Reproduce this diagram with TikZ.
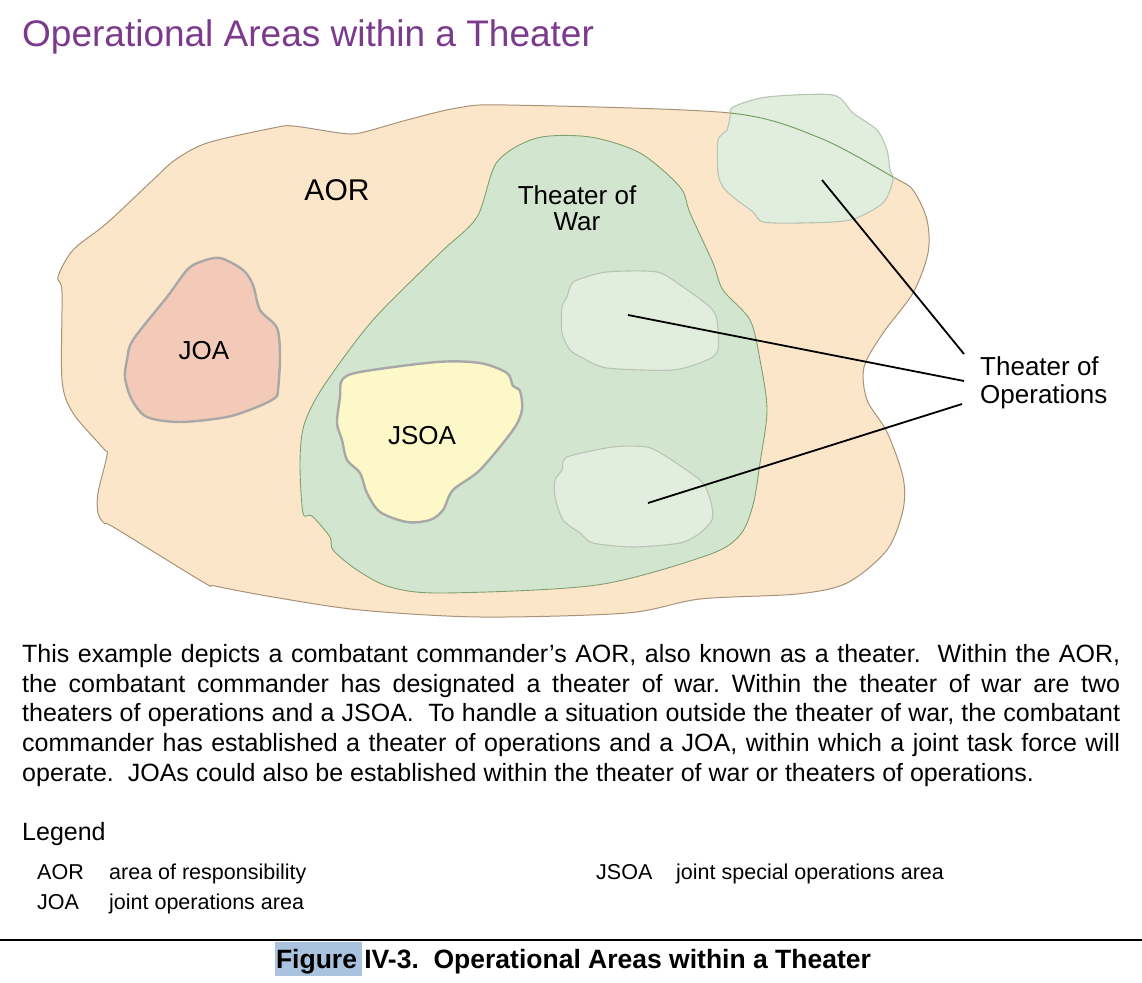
\documentclass[tikz,border=0pt]{standalone}
\usepackage{fontspec}
\setmainfont{Liberation Sans}
\frenchspacing
\definecolor{titlepurple}{RGB}{124,58,141}
\definecolor{aorfill}{RGB}{252,230,201}
\definecolor{aorline}{RGB}{168,147,122}
\definecolor{towfill}{RGB}{210,229,207}
\definecolor{towline}{RGB}{128,160,112}
\definecolor{joafill}{RGB}{243,202,184}
\definecolor{jsoafill}{RGB}{253,248,200}
\definecolor{areaedge}{RGB}{168,168,168}
\definecolor{toofill}{RGB}{225,238,221}
\definecolor{tooline}{RGB}{184,196,180}
\definecolor{throughline}{RGB}{118,160,98}
\definecolor{hilite}{RGB}{169,195,222}
\tikzset{
  aorstyle/.style={fill=aorfill, draw=aorline, line width=1pt},
  towstyle/.style={fill=towfill, draw=towline, line width=0.9pt},
  joastyle/.style={fill=joafill, draw=areaedge, line width=2.4pt},
  jsoastyle/.style={fill=jsoafill, draw=areaedge, line width=2.4pt},
  toostyle/.style={fill=toofill, draw=tooline, line width=1.1pt},
  leader/.style={draw=black, line width=1.8pt},
  maplabel/.style={inner sep=0pt, font=\fontsize{26}{26}\selectfont, text=black},
  paraline/.style={anchor=base west, inner sep=0pt, font=\fontsize{25}{30}\selectfont},
  legitem/.style={anchor=base west, inner sep=0pt, font=\fontsize{21.5}{26}\selectfont},
}
\begin{document}
\begin{tikzpicture}[x=1pt, y=-1pt]
\path[use as bounding box, fill=white] (0,0) rectangle (1142,982);

% Title
\node[anchor=base west, inner sep=0pt, text=titlepurple, font=\fontsize{37}{40}\selectfont] (title) at (22,47) {Operational Areas within a Theater};

% AOR
\draw[aorstyle] plot[smooth cycle, tension=0.5] coordinates {
 (58,277) (62,292) (62,380) (73,413) (103,448) (107,455) (98,493) (98,513) (104,523) (115,528)
 (203,582) (215,586) (273,597) (360,610) (480,617) (627,613) (700,599) (797,594) (847,583)
 (887,550) (903,510) (903,477) (887,432) (867,400) (864,367) (883,333) (913,293) (928,253)
 (927,220) (913,190) (893,177) (820,138) (730,113) (507,105) (457,108) (407,120) (360,133)
 (340,133) (293,126) (273,128) (207,143) (175,160) (155,178) (107,223) (73,250)};

% Theater of War
\draw[towstyle] plot[smooth cycle, tension=0.5] coordinates {
 (537,138) (590,137) (640,153) (680,187) (690,213) (713,263) (723,290) (750,320) (760,360)
 (767,410) (760,463) (753,505) (740,535) (708,555) (597,585) (443,593) (390,587) (357,570)
 (333,550) (330,537) (312,516) (303,513) (300,463) (304,425) (323,387) (373,320) (440,253)
 (477,217) (497,162)};

% JOA
\draw[joastyle] plot[smooth cycle, tension=0.5] coordinates {
 (187,270) (200,262) (220,258) (243,270) (253,285) (260,310) (277,328) (280,357) (278,390)
 (275,398) (257,407) (227,417) (180,422) (147,417) (132,400) (125,378) (127,360)
 (133,340) (167,297)};

% JSOA
\draw[jsoastyle] plot[smooth cycle, tension=0.5] coordinates {
 (342,380) (360,372) (437,362) (480,363) (507,373) (513,386) (520,391) (522,410) (513,430)
 (480,470) (453,490) (443,510) (430,520) (407,522) (380,512) (367,493) (360,473) (347,460)
 (342,440) (337,423) (340,397)};

% Theaters of operations
\draw[toostyle] plot[smooth cycle, tension=0.45] coordinates {
 (733,107) (767,97) (833,95) (853,113) (877,130) (887,150) (890,170) (893,180) (883,203)
 (850,220) (800,223) (763,222) (753,212) (733,197) (723,187) (718,173) (718,140) (727,130)
 (730,117)};
\begin{scope}
 \clip plot[smooth cycle, tension=0.45] coordinates {
 (733,107) (767,97) (833,95) (853,113) (877,130) (887,150) (890,170) (893,180) (883,203)
 (850,220) (800,223) (763,222) (753,212) (733,197) (723,187) (718,173) (718,140) (727,130)
 (730,117)};
 \draw[draw=throughline, line width=1pt] plot[smooth cycle, tension=0.5] coordinates {
 (58,277) (62,292) (62,380) (73,413) (103,448) (107,455) (98,493) (98,513) (104,523) (115,528)
 (203,582) (215,586) (273,597) (360,610) (480,617) (627,613) (700,599) (797,594) (847,583)
 (887,550) (903,510) (903,477) (887,432) (867,400) (864,367) (883,333) (913,293) (928,253)
 (927,220) (913,190) (893,177) (820,138) (730,113) (507,105) (457,108) (407,120) (360,133)
 (340,133) (293,126) (273,128) (207,143) (175,160) (155,178) (107,223) (73,250)};
\end{scope}
\draw[toostyle] plot[smooth cycle, tension=0.45] coordinates {
 (577,280) (607,272) (657,272) (683,287) (710,307) (717,320) (718,350) (707,360) (673,370)
 (607,368) (583,358) (570,350) (562,333) (562,307) (567,297) (570,287)};
\draw[toostyle] plot[smooth cycle, tension=0.45] coordinates {
 (567,457) (613,447) (647,447) (667,457) (700,480) (708,493) (712,507) (712,520) (700,533)
 (680,543) (633,547) (593,543) (580,533) (563,520) (555,497) (555,480) (562,470)};

% Labels
\node[maplabel, font=\fontsize{30}{30}\selectfont] (aorlabel) at (337,190) {AOR};
\node[maplabel, align=center] (towlabel) at (577,208) {Theater of\\War};
\node[maplabel] (joalabel) at (204,351) {JOA};
\node[maplabel] (jsoalabel) at (422,436) {JSOA};
\node[maplabel, anchor=west, align=left, font=\fontsize{26}{27.5}\selectfont] (toolabel) at (980,383) {Theater of\\Operations};

% Leader lines
\coordinate (too1) at (822,180);
\coordinate (too2) at (628,315);
\coordinate (too3) at (648,503);
\coordinate (end1) at (964,354);
\coordinate (end2) at (964,381);
\coordinate (end3) at (962,404);
\draw[leader] (too1) -- (end1);
\draw[leader] (too2) -- (end2);
\draw[leader] (too3) -- (end3);

% Paragraph
\node[paraline] (p1) at (22,662) {\makebox[1098pt][s]{This example depicts a combatant commander’s AOR, also known as a theater.\ \ Within the AOR,}};
\node[paraline] (p2) at (22,692) {\makebox[1098pt][s]{the combatant commander has designated a theater of war. Within the theater of war are two}};
\node[paraline] (p3) at (22,721.5) {\makebox[1098pt][s]{theaters of operations and a JSOA.\ \ To handle a situation outside the theater of war, the combatant}};
\node[paraline] (p4) at (22,751) {\makebox[1098pt][s]{commander has established a theater of operations and a JOA, within which a joint task force will}};
\node[paraline] (p5) at (22,781) {operate.\ \ JOAs could also be established within the theater of war or theaters of operations.};

% Legend
\node[anchor=base west, inner sep=0pt, font=\fontsize{25}{30}\selectfont] (legend) at (22,840) {Legend};
\node[legitem] (l1a) at (37,879) {AOR};
\node[legitem] (l1b) at (109,879) {area of responsibility};
\node[legitem] (l2a) at (37,909) {JOA};
\node[legitem] (l2b) at (109,909) {joint operations area};
\node[legitem] (l3a) at (596,879) {JSOA};
\node[legitem] (l3b) at (676,879) {joint special operations area};

% Rule and caption
\coordinate (ruleL) at (0,940);
\coordinate (ruleR) at (1142,940);
\draw[line width=2pt] (ruleL) -- (ruleR);
\fill[hilite] (275,942) rectangle (362,976);
\node[anchor=base, inner sep=0pt, font=\bfseries\fontsize{26.5}{30}\selectfont] (caption) at (573.5,968) {Figure IV-3.\ \ Operational Areas within a Theater};
\end{tikzpicture}
\end{document}
